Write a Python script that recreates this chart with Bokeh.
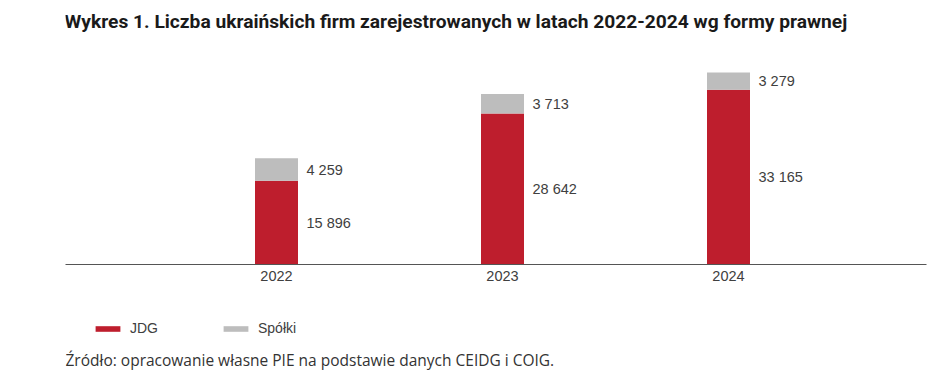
from bokeh.plotting import figure
from bokeh.layouts import column
from bokeh.models import (Range1d, FixedTicker, Legend, LegendItem, ColumnDataSource, Label)
from bokeh.core.properties import value
from bokeh.embed import file_html
from bokeh.resources import INLINE

years = [2022, 2023, 2024]
jdg = [15896, 28642, 33165]
spolki = [4259, 3713, 3279]
series_names = ["JDG", "Spółki"]
title_text = "Wykres 1.  Liczba ukraińskich firm zarejestrowanych w latach 2022-2024 wg formy prawnej"
source_text = "Źródło: opracowanie własne PIE na podstawie danych CEIDG i COIG."

RED = "#BE1E2D"
GRAY = "#BDBDBD"
TXT = "#404040"

def fmt(v):
    return f"{v:,}".replace(",", " ")

totals = [a + b for a, b in zip(jdg, spolki)]
src = ColumnDataSource(dict(
    x=years, jdg=jdg, sp=spolki, top=totals,
    jdg_mid=[a / 2 for a in jdg],
    sp_mid=[a + b / 2 for a, b in zip(jdg, spolki)],
    jdg_lab=[fmt(v) for v in jdg],
    sp_lab=[fmt(v) for v in spolki],
))

W = 936

def blank(height):
    fig = figure(width=W, height=height, output_backend="svg", toolbar_location=None,
                 x_range=Range1d(0, W), y_range=Range1d(0, height),
                 x_axis_location=None, y_axis_location=None,
                 min_border=0, min_border_left=0, min_border_right=0,
                 min_border_top=0, min_border_bottom=0)
    fig.outline_line_color = None
    fig.xgrid.visible = False
    fig.ygrid.visible = False
    return fig

# header with the title (frames of the column are aligned with the main plot)
h = blank(52)
h.add_layout(Label(x=-1, y=31, x_units="screen", y_units="screen", text=title_text,
                   text_font="Roboto", text_font_style="bold", text_font_size="19.2px",
                   text_color="#1a1a1a", text_baseline="middle"))

unit = 226.0  # px per year
p = figure(width=W, height=238, output_backend="svg", toolbar_location=None,
           x_range=Range1d(2022 - 211 / unit, 2022 - 211 / unit + 861 / unit),
           y_range=Range1d(0, 40240),
           y_axis_location=None,
           min_border_left=65, min_border_right=10, min_border_top=0, min_border_bottom=26)
p.outline_line_color = None
p.xgrid.visible = False
p.ygrid.visible = False
p.background_fill_color = "white"

bw = 43 / unit
r1 = p.vbar(x="x", bottom=0, top="jdg", width=bw, source=src, fill_color=RED, line_color=None)
r2 = p.vbar(x="x", bottom="jdg", top="top", width=bw, source=src, fill_color=GRAY, line_color=None)

for ycol, tcol in (("jdg_mid", "jdg_lab"), ("sp_mid", "sp_lab")):
    p.text(x="x", y=ycol, text=tcol, source=src, x_offset=30,
           text_baseline="middle", text_align="left",
           text_font=value("Liberation Sans"), text_font_size="14.5px", text_color=TXT)

ax = p.xaxis[0]
ax.ticker = FixedTicker(ticks=years)
ax.major_tick_line_color = None
ax.minor_tick_line_color = None
ax.major_tick_out = 0
ax.major_tick_in = 0
ax.axis_line_color = "#555555"
ax.axis_line_width = 1
ax.major_label_standoff = 6
ax.major_label_text_font = "Liberation Sans"
ax.major_label_text_font_size = "14.5px"
ax.major_label_text_color = TXT

# footer: legend + source. Legend proxies are zero-height, so only their
# legend swatches are visible.
f = blank(86)
l1 = f.vbar(x="x", bottom=0, top=0, width=bw, source=src, fill_color=RED, line_color=None)
l2 = f.vbar(x="x", bottom=0, top=0, width=bw, source=src, fill_color=GRAY, line_color=None)
legend = Legend(items=[LegendItem(label=series_names[0], renderers=[l1]),
                       LegendItem(label=series_names[1], renderers=[l2])],
                location=(27, 39), orientation="horizontal",
                glyph_width=31, glyph_height=7, label_width=90, label_standoff=7,
                spacing=0, padding=0, margin=0, border_line_color=None,
                background_fill_alpha=0, label_text_font="Liberation Sans",
                label_text_font_size="14px", label_text_color=TXT, label_height=18)
f.add_layout(legend, "center")
f.add_layout(Label(x=0, y=17, x_units="screen", y_units="screen", text=source_text,
                   text_font="Open Sans", text_font_size="15.5px",
                   text_color="#333333", text_baseline="middle"))

open("out.html", "w").write(file_html(column(h, p, f, spacing=0), INLINE))
